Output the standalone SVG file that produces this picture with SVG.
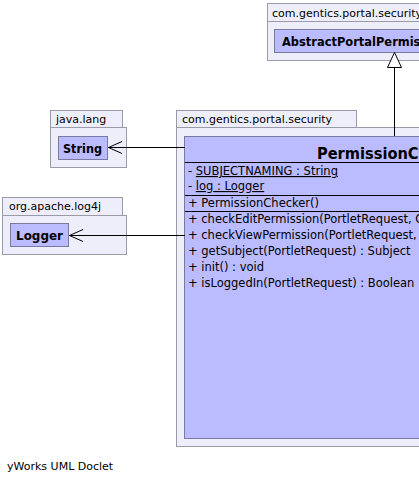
<svg xmlns="http://www.w3.org/2000/svg" width="419" height="484" viewBox="0 0 419 484">
<style>
.pkg{fill:#eeeefa;stroke:#9a9aaa;stroke-width:1}
.cls{fill:#bbbbff;stroke:#7a7aa0;stroke-width:1}
.t{font-family:"DejaVu Sans",sans-serif;font-size:11px;fill:#000}
.m{font-family:"DejaVu Sans",sans-serif;font-size:11.5px;fill:#000}
.b{font-family:"DejaVu Sans",sans-serif;font-size:12.5px;font-weight:bold;fill:#000}
.sep{stroke:#000;stroke-width:1}
.edge{stroke:#000;stroke-width:1;fill:none}
</style>
<rect width="419" height="484" fill="#fff"/>
<g id="pkg-security-top">
<rect class="pkg" x="267.5" y="3.5" width="160" height="18"/>
<rect class="pkg" x="267.5" y="21.5" width="260" height="39"/>
<text class="t" x="272" y="17">com.gentics.portal.security</text>
</g>
<g id="AbstractPortalPermissionChecker">
<rect class="cls" x="274.5" y="29.5" width="232" height="23"/>
<text class="b" x="282" y="46" textLength="217" lengthAdjust="spacingAndGlyphs">AbstractPortalPermissionChecker</text>
</g>
<g id="pkg-java-lang">
<rect class="pkg" x="50.5" y="110.5" width="72" height="17"/>
<rect class="pkg" x="50.5" y="127.5" width="76" height="40"/>
<text class="t" x="56" y="123">java.lang</text>
</g>
<g id="String">
<rect class="cls" x="58.5" y="136.5" width="49" height="23"/>
<text class="b" x="63" y="152.5" textLength="39" lengthAdjust="spacingAndGlyphs">String</text>
</g>
<g id="pkg-log4j">
<rect class="pkg" x="2.5" y="197.5" width="120" height="18"/>
<rect class="pkg" x="2.5" y="215.5" width="124" height="39"/>
<text class="t" x="9" y="210">org.apache.log4j</text>
</g>
<g id="Logger">
<rect class="cls" x="10.5" y="223.5" width="58" height="23"/>
<text class="b" x="16" y="240" textLength="47" lengthAdjust="spacingAndGlyphs">Logger</text>
</g>
<g id="pkg-security">
<rect class="pkg" x="176.5" y="110.5" width="180" height="17"/>
<rect class="pkg" x="176.5" y="127.5" width="300" height="319"/>
<text class="t" x="182" y="123">com.gentics.portal.security</text>
</g>
<g id="PermissionChecker">
<rect class="cls" x="184.5" y="136.5" width="280" height="302"/>
<text class="b" x="317" y="159" style="font-size:16px" textLength="157" lengthAdjust="spacingAndGlyphs">PermissionChecker</text>
<line class="sep" x1="185" y1="162.5" x2="419" y2="162.5"/>
<text class="m" x="188" y="175">- <tspan text-decoration="underline">SUBJECTNAMING : String</tspan></text>
<text class="m" x="188" y="190">- <tspan text-decoration="underline">log : Logger</tspan></text>
<line class="sep" x1="185" y1="195.5" x2="419" y2="195.5"/>
<text class="m" x="188" y="206.5">+ PermissionChecker()</text>
<line class="sep" x1="185" y1="211.5" x2="419" y2="211.5"/>
<text class="m" x="188" y="223">+ checkEditPermission(PortletRequest, Object) : boolean</text>
<text class="m" x="188" y="239">+ checkViewPermission(PortletRequest, Object) : boolean</text>
<text class="m" x="188" y="255">+ getSubject(PortletRequest) : Subject</text>
<text class="m" x="188" y="271">+ init() : void</text>
<text class="m" x="188" y="287">+ isLoggedIn(PortletRequest) : Boolean</text>
</g>
<g id="connectors">
<path class="edge" d="M394.5 68 V136"/>
<path d="M394.5 52.5 L387.5 67.5 L401.5 67.5 Z" fill="#fff" stroke="#000"/>
<path class="edge" d="M185 147.5 H108"/>
<path class="edge" d="M122 141.5 L108.5 147.5 L122 153.5"/>
<path class="edge" d="M185 235.5 H69"/>
<path class="edge" d="M83 229.5 L69.5 235.5 L83 241.5"/>
</g>
<text class="t" x="7" y="470">yWorks UML Doclet</text>
</svg>
